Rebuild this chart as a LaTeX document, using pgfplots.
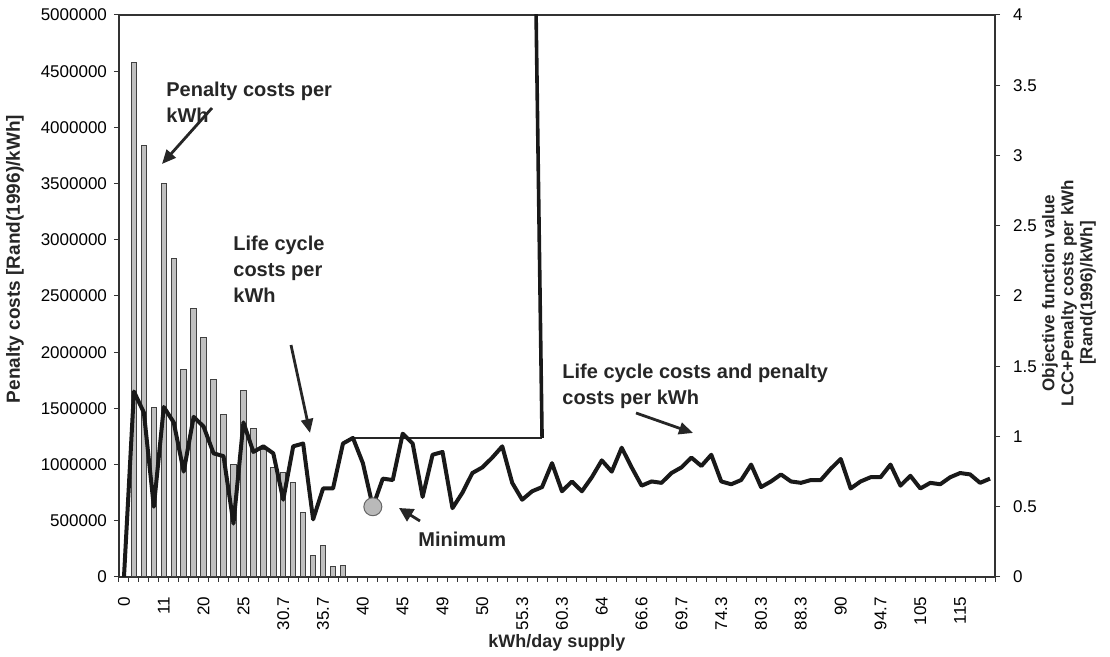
\documentclass[border=0pt]{standalone}
\usepackage{pgfplots}
\pgfplotsset{compat=1.18}
\usepackage{pgfplotstable}
\usepackage{fontspec}
\setmainfont{Liberation Sans}
\usetikzlibrary{arrows.meta}

% penalty costs per kWh (left axis)
\pgfplotstableread{
i  pen
1  4580000
2  3840000
3  1510000
4  3500000
5  2830000
6  1850000
7  2390000
8  2130000
9  1760000
10 1450000
11 1000000
12 1660000
13 1320000
14 1130000
15 970000
16 930000
17 840000
18 570000
19 190000
20 280000
21 90000
22 100000
}\pentable

% objective function value LCC + penalty costs per kWh (right axis)
\pgfplotstableread{
i  obj
0  0
1  1.32
2  1.17
3  0.50
4  1.21
5  1.10
6  0.75
7  1.14
8  1.07
9  0.88
10 0.86
11 0.38
12 1.10
13 0.89
14 0.93
15 0.88
16 0.55
17 0.93
18 0.95
19 0.41
20 0.63
21 0.63
22 0.95
23 0.99
24 0.81
25 0.50
26 0.70
27 0.69
28 1.02
29 0.95
30 0.57
31 0.87
32 0.89
33 0.49
34 0.60
35 0.74
36 0.78
37 0.85
38 0.93
39 0.67
40 0.55
41 0.61
42 0.64
43 0.81
44 0.61
45 0.68
46 0.61
47 0.71
48 0.83
49 0.75
50 0.92
51 0.78
52 0.65
53 0.68
54 0.67
55 0.74
56 0.78
57 0.85
58 0.79
59 0.87
60 0.68
61 0.66
62 0.69
63 0.80
64 0.64
65 0.68
66 0.73
67 0.68
68 0.67
69 0.69
70 0.69
71 0.77
72 0.84
73 0.63
74 0.68
75 0.71
76 0.71
77 0.80
78 0.65
79 0.72
80 0.63
81 0.67
82 0.66
83 0.71
84 0.74
85 0.73
86 0.67
87 0.70
}\objtable

\pgfplotsset{
  base/.style={
    at={(59.5pt,40pt)}, anchor=south west,
    width=438pt, height=281pt, scale only axis,
    xmin=-0.5, xmax=87.5,
    axis line style={line width=0.6pt, black!80},
    tick style={line width=0.5pt, black!80},
    tick align=outside,
    major tick length=2.5pt,
    minor tick length=2.5pt,
  },
}

\begin{document}
\begin{tikzpicture}
\path[use as bounding box] (0,0) rectangle (555pt,328.5pt);

\begin{axis}[
  base,
  ymin=0, ymax=5000000,
  tick pos=left,
  xtick={0,4,...,84},
  xticklabels={0,11,20,25,30.7,35.7,40,45,49,50,55.3,60.3,64,66.6,69.7,74.3,80.3,88.3,90,94.7,105,115},
  x tick label style={rotate=90, anchor=east, font=\fontsize{8.5}{9}\selectfont},
  major x tick style={draw=none},
  minor xtick={-0.5,0.5,...,87.5},
  xticklabel shift=4pt,
  ytick={0,500000,...,5000000},
  scaled y ticks=false,
  y tick label style={font=\fontsize{8.5}{9}\selectfont,
    /pgf/number format/fixed, /pgf/number format/1000 sep={},
    /pgf/number format/assume math mode=true},
]
\addplot[ybar, bar width=0.55, fill=gray!50, draw=black!75, line width=0.5pt]
  table[x=i, y=pen] {\pentable};
\end{axis}

\begin{axis}[
  base,
  ymin=0, ymax=4,
  axis x line=none,
  axis y line*=right,
  ytick={0,0.5,...,4},
  y tick label style={font=\fontsize{8.5}{9}\selectfont,
    /pgf/number format/fixed,
    /pgf/number format/assume math mode=true},
  yticklabel shift=3pt,
]
% life cycle costs per kWh
\addplot[black!85, line width=0.7pt] coordinates {(23,0.99) (42,0.99)};
\addplot[black!90, line width=1.8pt] coordinates {(42,0.99) (41,6)};
% objective function value
\addplot[black!90, line width=2pt, line join=round] table[x=i, y=obj] {\objtable};
% minimum
\addplot[only marks, mark=*, mark size=4.5pt,
  mark options={fill=gray!55, draw=black!60, line width=0.5pt}]
  coordinates {(25,0.50)};
\end{axis}

\begin{scope}[shift={(0pt,328.5pt)}, x=0.5pt, y=-0.5pt]
  \tikzset{ann/.style={anchor=north west, align=left, inner sep=0pt,
      font=\fontsize{10}{13}\selectfont\bfseries, text=black!85},
    arr/.style={line width=1.4pt, black!85, -{Triangle[length=7pt, width=6pt]}}}
  \node[ann] at (166,82) {Penalty costs per\\kWh};
  \draw[arr] (212,108) -- (162,164);
  \node[ann] at (233,236) {Life cycle\\costs per\\kWh};
  \draw[arr] (291,345) -- (310,433);
  \node[ann] at (562,364) {Life cycle costs and penalty\\costs per kWh};
  \draw[arr] (636,413) -- (693,433);
  \node[ann] at (418,532) {Minimum};
  \draw[line width=1.4pt, black!85, -{Triangle[length=7pt, width=7pt]}] (420,521) -- (399,508);

  \node[rotate=90, inner sep=0pt, font=\fontsize{9.5}{10}\selectfont\bfseries, text=black!85]
    at (15,259) {Penalty costs [Rand(1996)/kWh]};
  \node[inner sep=0pt, font=\fontsize{9}{10}\selectfont\bfseries, text=black!85]
    at (557,643) {kWh/day supply};
  \node[rotate=90, align=center, inner sep=0pt,
    font=\fontsize{8.5}{9.5}\selectfont\bfseries, text=black!85]
    at (1069,293) {Objective function value\\LCC+Penalty costs per kWh\\{[Rand(1996)/kWh]}};
\end{scope}
\end{tikzpicture}
\end{document}
